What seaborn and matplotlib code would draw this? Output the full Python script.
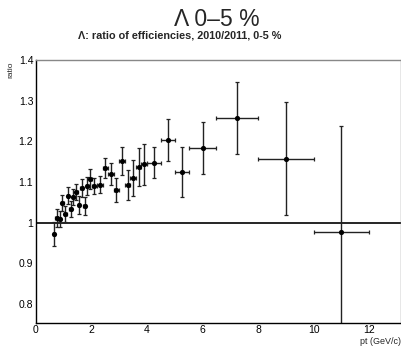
import numpy as np
import pandas as pd
import matplotlib
matplotlib.use("Agg")
import matplotlib.pyplot as plt
import seaborn as sns
from matplotlib.ticker import MultipleLocator

pt = [0.65, 0.75, 0.85, 0.95, 1.05, 1.15, 1.25, 1.35, 1.45, 1.55, 1.65, 1.75, 1.85, 1.95,
      2.1, 2.3, 2.5, 2.7, 2.9, 3.1, 3.3, 3.5, 3.7, 3.9, 4.25, 4.75, 5.25, 6.0, 7.25, 9.0, 11.0]
pt_halfwidth = [0.05] * 14 + [0.1] * 10 + [0.25, 0.25, 0.25, 0.5, 0.75, 1.0, 1.0]
ratio = [0.973, 1.011, 1.009, 1.048, 1.021, 1.067, 1.034, 1.064, 1.075, 1.043, 1.086, 1.042,
         1.090, 1.107, 1.090, 1.094, 1.134, 1.121, 1.080, 1.152, 1.093, 1.110, 1.137, 1.144,
         1.147, 1.204, 1.125, 1.184, 1.257, 1.157, 0.977]
ratio_err = [0.029, 0.022, 0.020, 0.020, 0.020, 0.020, 0.020, 0.020, 0.020, 0.022, 0.022, 0.022,
             0.022, 0.025, 0.020, 0.022, 0.025, 0.027, 0.030, 0.034, 0.037, 0.045, 0.046, 0.050,
             0.038, 0.051, 0.062, 0.064, 0.088, 0.139, 0.262]

df = pd.DataFrame({"pt": pt, "ratio": ratio, "xerr": pt_halfwidth, "yerr": ratio_err})

sns.set_style("white")
plt.rcParams["font.family"] = ["Liberation Sans", "DejaVu Sans"]

fig = plt.figure(figsize=(4.02, 3.47), dpi=100)
ax = fig.add_axes([36 / 402, 1 - 322.5 / 347, 365 / 402, 262.5 / 347])

ax.axhline(1.0, color="black", lw=1.2, zorder=1)
ax.errorbar(df["pt"], df["ratio"], xerr=df["xerr"], yerr=df["yerr"], fmt="none",
            ecolor="#222222", elinewidth=1.0, capsize=1.3, capthick=0.9, zorder=2)
sns.scatterplot(data=df, x="pt", y="ratio", ax=ax, color="black", s=14,
                edgecolor="black", linewidth=0, zorder=3, legend=False)

ax.set_xlim(0, 13.15)
ax.set_ylim(0.755, 1.4)
ax.xaxis.set_major_locator(MultipleLocator(2))
ax.xaxis.set_minor_locator(MultipleLocator(0.5))
ax.yaxis.set_major_locator(MultipleLocator(0.1))
ax.yaxis.set_minor_locator(MultipleLocator(0.02))
ax.tick_params(axis="both", which="both", direction="in", color="black",
               labelsize=7.5, labelcolor="black", top=False, right=False)
ax.tick_params(axis="y", which="major", length=9, width=0.9, pad=2)
ax.tick_params(axis="y", which="minor", length=4.5, width=0.8)
ax.tick_params(axis="x", which="major", length=6, width=0.9, pad=2)
ax.tick_params(axis="x", which="minor", length=3, width=0.8)
ax.yaxis.set_major_formatter(matplotlib.ticker.FuncFormatter(lambda v, p: f"{v:g}"))

for s in ["left", "bottom"]:
    ax.spines[s].set_color("black")
    ax.spines[s].set_linewidth(1.0)
for s in ["top", "right"]:
    ax.spines[s].set_color("#888888")
    ax.spines[s].set_linewidth(1.0)

ax.set_xlabel("")
ax.set_ylabel("")
fig.text(401 / 402, 1 - 341 / 347, "pt (GeV/c)", ha="right", va="center", fontsize=6.5)
fig.text(11 / 402, 1 - 62 / 347, "ratio", ha="center", va="top", rotation=90, fontsize=6)

fig.text(217 / 402, 1 - 19 / 347, "Λ 0–5 %", ha="center", va="center", fontsize=16.5)
fig.text(180 / 402, 1 - 35 / 347, "Λ: ratio of efficiencies, 2010/2011, 0-5 %",
         ha="center", va="center", fontsize=7.8, fontweight="bold")

fig.savefig("out.png", dpi=100)
